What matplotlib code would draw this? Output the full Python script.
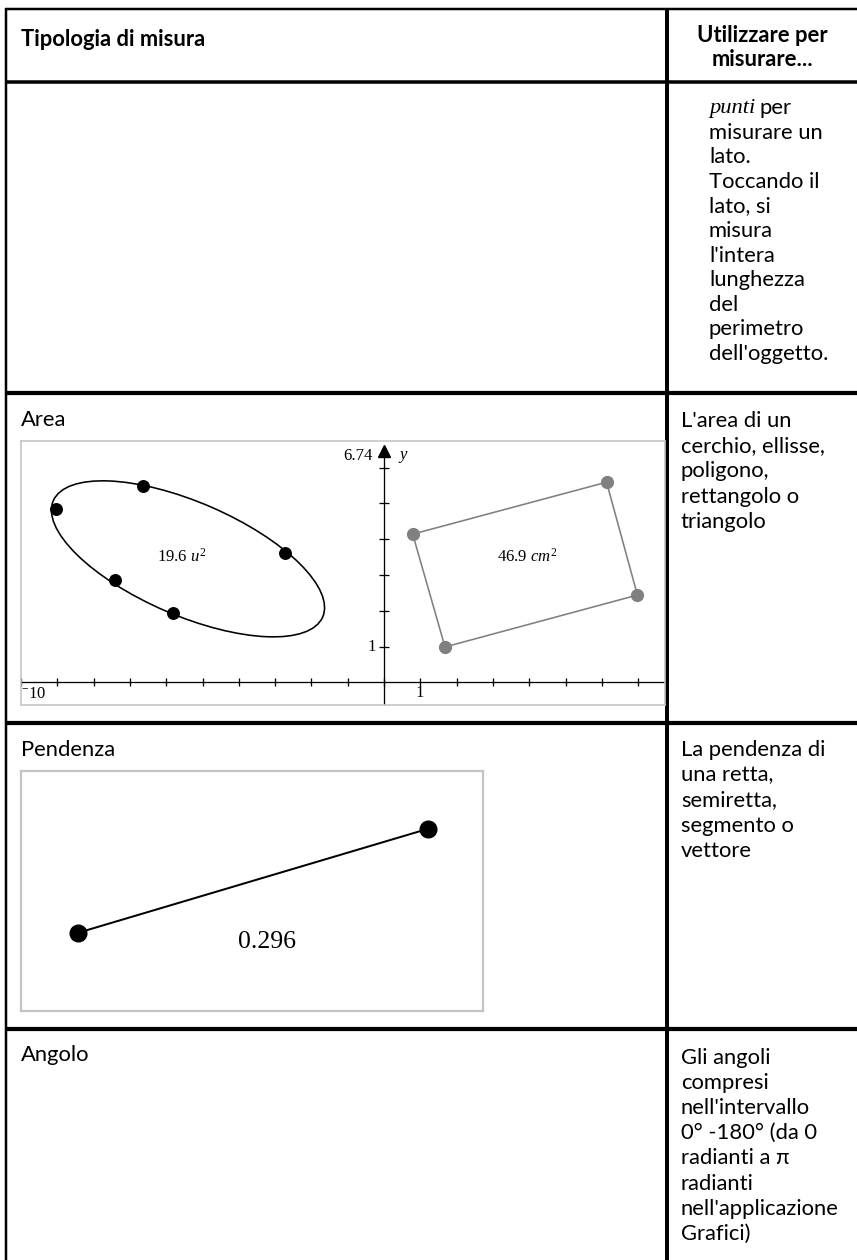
import matplotlib
matplotlib.use("Agg")
import matplotlib.pyplot as plt
from matplotlib.patches import Ellipse, Polygon

plt.rcParams['mathtext.fontset'] = 'custom'
plt.rcParams['mathtext.rm'] = 'Liberation Serif'
plt.rcParams['mathtext.it'] = 'Liberation Serif:italic'
plt.rcParams['mathtext.bf'] = 'Liberation Serif:bold'

SANS = ['Lato', 'DejaVu Sans']
SERIF = ['Liberation Serif', 'DejaVu Serif']

# ---------------- data ----------------
header_left = "Tipologia di misura"
header_right = ["Utilizzare per", "misurare..."]
row_labels = ["", "Area", "Pendenza", "Angolo"]
row1_italic = "punti"
row1_rest = "per"
desc_row1 = ["misurare un", "lato.", "Toccando il", "lato, si", "misura",
             "l'intera", "lunghezza", "del", "perimetro", "dell'oggetto."]
desc_area = ["L'area di un", "cerchio, ellisse,", "poligono,", "rettangolo o", "triangolo"]
desc_slope = ["La pendenza di", "una retta,", "semiretta,", "segmento o", "vettore"]
desc_angle = ["Gli angoli", "compresi", "nell'intervallo", "0° -180° (da 0",
              "radianti a π", "radianti", "nell'applicazione", "Grafici)"]

# area graph
area_xlim = (-10.0, 7.74)
area_ylim = (-0.63, 6.74)
x_ticks = list(range(-10, 8))
y_ticks = list(range(1, 7))
ellipse_center = (-5.40, 3.45)
ellipse_width = 8.10
ellipse_height = 3.16
ellipse_angle = -23.7
ellipse_pts_x = [-9.04, -6.65, -2.73, -7.42, -5.81]
ellipse_pts_y = [4.84, 5.49, 3.61, 2.85, 1.95]
rect_x = [0.79, 6.13, 6.98, 1.68]
rect_y = [4.14, 5.59, 2.44, 0.99]
ellipse_label = r"$\mathrm{19.6}\ u^{2}$"
ellipse_label_pos = (-5.57, 3.52)
rect_label = r"$\mathrm{46.9}\ cm^{2}$"
rect_label_pos = (3.93, 3.52)
y_max_label = "6.74"

# slope graph
slope_xlim = (0, 10)
slope_ylim = (0, 5.19)
slope_x = [1.23, 8.81]
slope_y = [1.69, 3.94]
slope_label = "0.296"
slope_label_pos = (5.32, 1.50)

# ---------------- layout ----------------
W, H = 857, 1260
fig = plt.figure(figsize=(W / 100, H / 100), dpi=100)
bg = fig.add_axes([0, 0, 1, 1])
bg.set_xlim(0, W)
bg.set_ylim(H, 0)
bg.axis('off')

PX = 0.72  # points per pixel


def px_rect(l, t, r, b):
    return [l / W, (H - b) / H, (r - l) / W, (b - t) / H]


# fit body font size so text width matches the reference
renderer = fig.canvas.get_renderer()
probe = bg.text(0, 0, "nell'applicazione", fontsize=15, family=SANS)
wpx = probe.get_window_extent(renderer).width
probe.remove()
FS = 15 * 158.0 / wpx

# table lines
line_kw = dict(color='black', solid_capstyle='butt', zorder=10)
bg.plot([5.5, W], [9, 9], lw=2.5 * PX, **line_kw)
bg.plot([6.5, 6.5], [8, H], lw=2.5 * PX, **line_kw)
bg.plot([667, 667], [8, H], lw=4 * PX, **line_kw)
bg.plot([5.5, W], [81.5, 81.5], lw=3.5 * PX, **line_kw)
row_tops = [81.5, 393, 723, 1029]
for y in row_tops[1:]:
    bg.plot([5.5, W], [y, y], lw=4.2 * PX, **line_kw)

# header
bg.text(21, 39, header_left, fontsize=FS, family=SANS, fontweight='bold',
        va='center', ha='left')
for i, s in enumerate(header_right):
    bg.text(762, 36 + i * 24, s, fontsize=FS, family=SANS, fontweight='bold',
            va='center', ha='center')

# row labels (left column)
label_y = [None, 420, 750, 1055]
for lab, y in zip(row_labels, label_y):
    if lab:
        bg.text(21, y, lab, fontsize=FS, family=SANS, va='center', ha='left')

# row 1 description
t_it = bg.text(709, 108, row1_italic, fontsize=FS * 1.02, family=SERIF,
               style='italic', va='center', ha='left')
right_px = t_it.get_window_extent(renderer).x1  # display pixels from left
bg.text(right_px + 4, 108, row1_rest, fontsize=FS, family=SANS,
        va='center', ha='left')
for i, s in enumerate(desc_row1):
    bg.text(709, 108 + (i + 1) * 24.6, s, fontsize=FS, family=SANS,
            va='center', ha='left')

for lines, y0 in ((desc_area, 421), (desc_slope, 750), (desc_angle, 1057.5)):
    for i, s in enumerate(lines):
        bg.text(681, y0 + i * 25.2, s, fontsize=FS, family=SANS,
                va='center', ha='left')

# ---------------- area graph ----------------
ax = fig.add_axes(px_rect(21, 441, 665, 705))
ax.set_xlim(*area_xlim)
ax.set_ylim(*area_ylim)
ax.set_xticks([])
ax.set_yticks([])
for sp in ax.spines.values():
    sp.set_color('#c4c4c4')
    sp.set_linewidth(1.6 * PX)

ax.axhline(0, color='black', lw=1.3 * PX)
ax.plot([0, 0], [area_ylim[0], 6.35], color='black', lw=1.3 * PX)
ax.plot([0], [6.45], marker='^', ms=9, color='black', ls='none')
ax.plot(x_ticks, [0] * len(x_ticks), ls='none', marker='|', ms=6,
        mew=1.3 * PX, color='black')
ax.plot([0] * len(y_ticks), y_ticks, ls='none', marker='_', ms=6.5,
        mew=1.3 * PX, color='black')

ax.text(-0.32, 6.33, y_max_label, fontsize=12, family=SERIF, ha='right', va='center')
ax.text(0.42, 6.36, "y", fontsize=12, family=SERIF, style='italic', ha='left', va='center')
ax.text(-0.23, 1, "1", fontsize=12, family=SERIF, ha='right', va='center')
ax.text(-9.99, -0.30, r"${}^{-}\mathrm{10}$", fontsize=12, ha='left', va='center')
ax.text(0.98, -0.30, "1", fontsize=12, family=SERIF, ha='center', va='center')

ell = Ellipse(ellipse_center, ellipse_width, ellipse_height, angle=ellipse_angle,
              fill=False, edgecolor='black', lw=1.6 * PX)
ax.add_patch(ell)
ax.plot(ellipse_pts_x, ellipse_pts_y, ls='none', marker='o', ms=8.3, color='black')
ax.text(*ellipse_label_pos, ellipse_label, fontsize=12, ha='center', va='center')

rect = Polygon(list(zip(rect_x, rect_y)), closed=True, fill=False,
               edgecolor='#808080', lw=1.6 * PX)
ax.add_patch(rect)
ax.plot(rect_x, rect_y, ls='none', marker='o', ms=8.5, color='#808080')
ax.text(*rect_label_pos, rect_label, fontsize=12, ha='center', va='center')

# ---------------- slope graph ----------------
ax2 = fig.add_axes(px_rect(21, 771, 483, 1011))
ax2.set_xlim(*slope_xlim)
ax2.set_ylim(*slope_ylim)
ax2.set_xticks([])
ax2.set_yticks([])
for sp in ax2.spines.values():
    sp.set_color('#c4c4c4')
    sp.set_linewidth(2.2 * PX)
ax2.plot(slope_x, slope_y, color='black', lw=2.0 * PX, marker='o', ms=12,
         solid_capstyle='round')
ax2.text(*slope_label_pos, slope_label, fontsize=18.5, family=SERIF,
         ha='center', va='center')

fig.savefig("out.png", dpi=100)
